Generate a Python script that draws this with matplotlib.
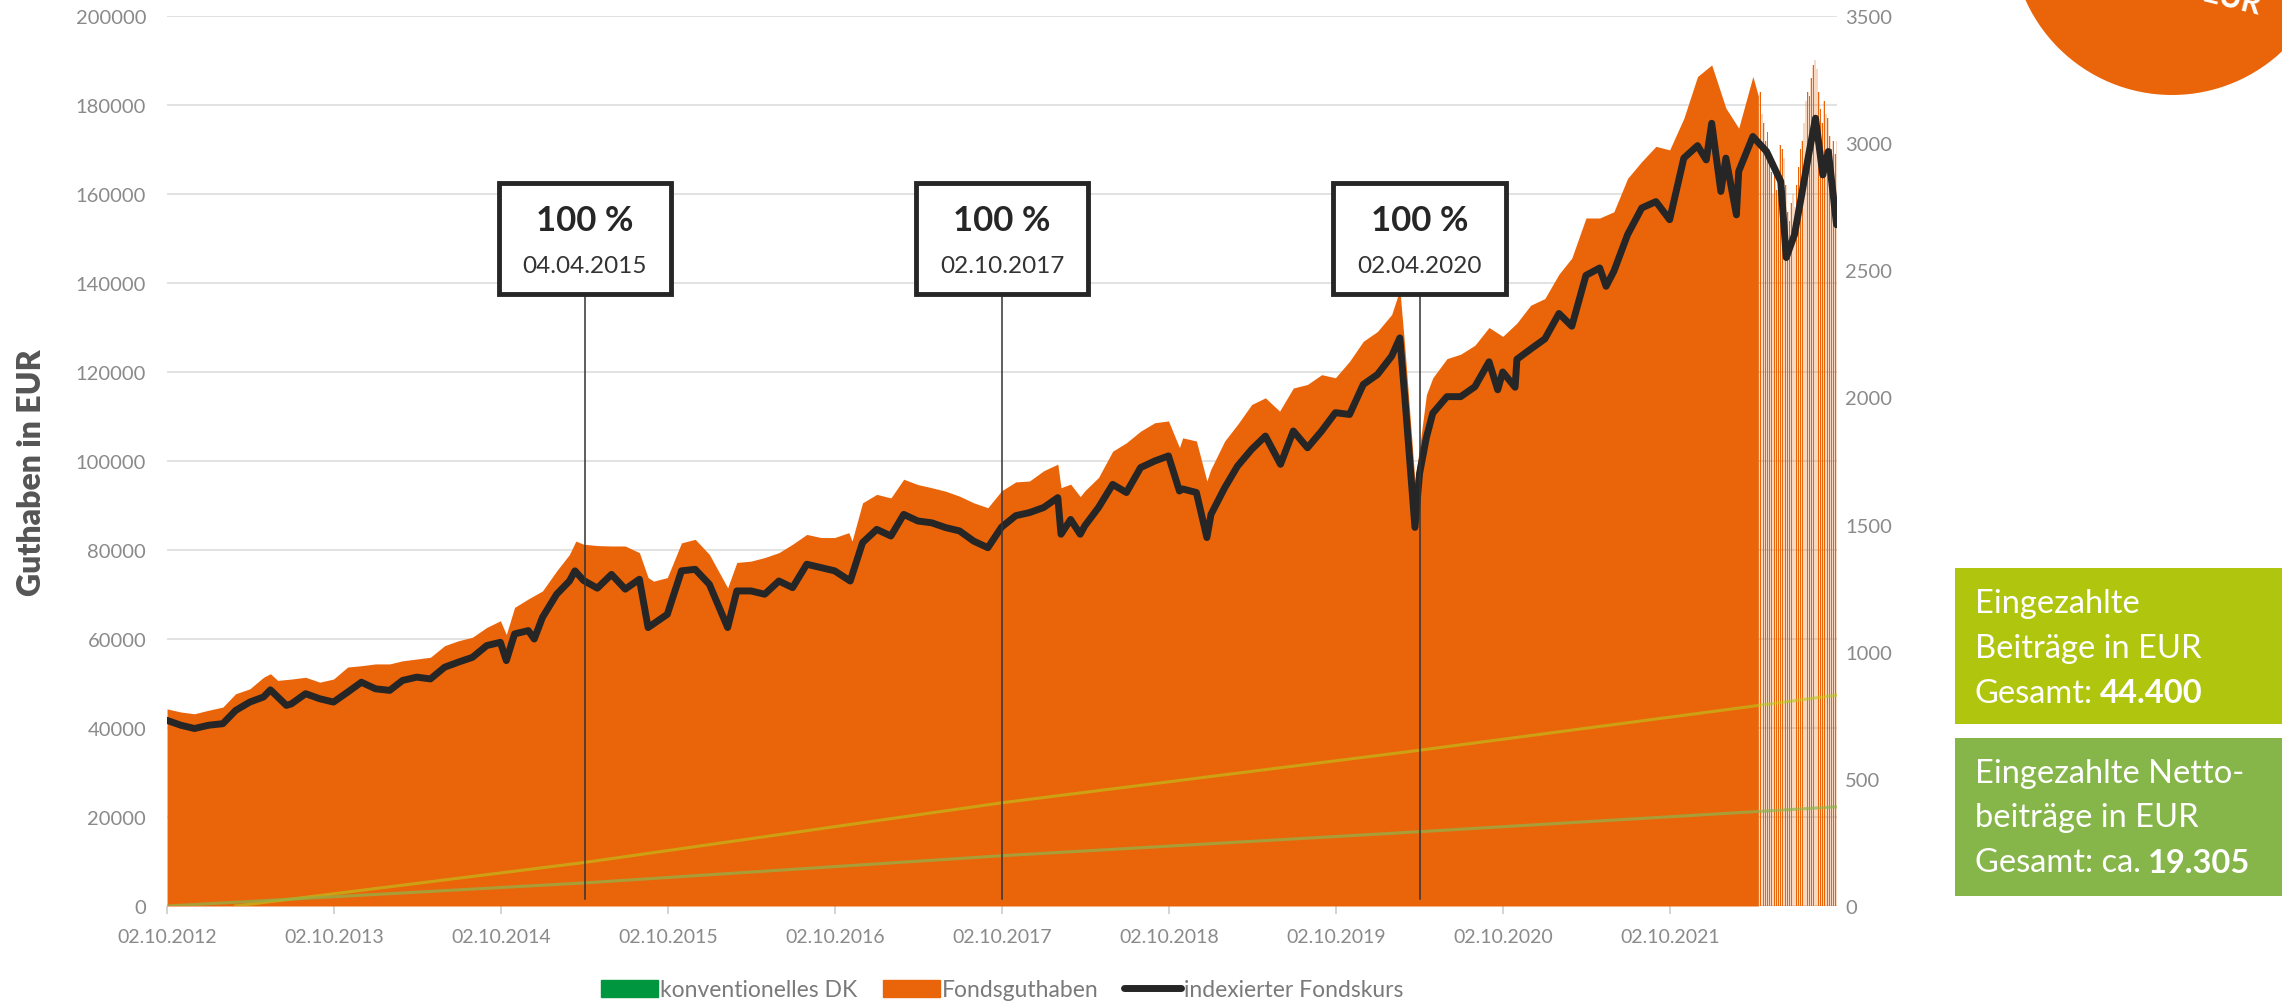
import matplotlib
matplotlib.use('Agg')
import matplotlib.pyplot as plt
import matplotlib.dates as mdates
import matplotlib.patches as mpatches
from matplotlib.lines import Line2D
from matplotlib.transforms import blended_transform_factory
import pandas as pd

plt.rcParams['font.family'] = ['Lato', 'DejaVu Sans']

ORANGE = '#ea650a'
GREY_TXT = '#8a8a8a'
DARK = '#262626'

# Fondsguthaben in EUR (solid part)
fonds_dates = [
   '2012-10-02', '2012-11-01', '2012-12-01', '2013-01-01', '2013-02-01', '2013-03-01',
   '2013-04-01', '2013-05-01', '2013-05-16', '2013-06-01', '2013-07-01', '2013-08-01',
   '2013-09-01', '2013-10-01', '2013-11-01', '2013-12-01', '2014-01-01', '2014-02-01',
   '2014-03-01', '2014-04-01', '2014-05-01', '2014-06-01', '2014-07-01', '2014-08-01',
   '2014-09-01', '2014-10-01', '2014-10-14', '2014-11-01', '2014-12-01', '2015-01-01',
   '2015-02-01', '2015-03-01', '2015-03-15', '2015-04-01', '2015-05-01', '2015-06-01',
   '2015-07-01', '2015-08-01', '2015-08-20', '2015-09-01', '2015-10-01', '2015-11-01',
   '2015-12-01', '2016-01-01', '2016-02-10', '2016-03-01', '2016-04-01', '2016-05-01',
   '2016-06-01', '2016-07-01', '2016-08-01', '2016-09-01', '2016-10-01', '2016-11-01',
   '2016-11-08', '2016-12-01', '2017-01-01', '2017-02-01', '2017-03-01', '2017-04-01',
   '2017-05-01', '2017-06-01', '2017-07-01', '2017-08-01', '2017-09-01', '2017-10-01',
   '2017-11-01', '2017-12-01', '2018-01-01', '2018-02-01', '2018-02-08', '2018-03-01',
   '2018-03-22', '2018-04-01', '2018-05-01', '2018-06-01', '2018-07-01', '2018-08-01',
   '2018-09-01', '2018-10-01', '2018-10-25', '2018-11-01', '2018-12-01', '2018-12-24',
   '2019-01-01', '2019-02-01', '2019-03-01', '2019-04-01', '2019-05-01', '2019-06-01',
   '2019-07-01', '2019-08-01', '2019-09-01', '2019-10-01', '2019-11-01', '2019-12-01',
   '2020-01-01', '2020-02-01', '2020-02-19', '2020-03-01', '2020-03-23', '2020-04-02',
   '2020-04-17', '2020-05-01', '2020-06-01', '2020-07-01', '2020-08-01', '2020-09-01',
   '2020-10-01', '2020-11-01', '2020-12-01', '2021-01-01', '2021-02-01', '2021-03-01',
   '2021-04-01', '2021-05-01', '2021-06-01', '2021-07-01', '2021-08-01', '2021-09-01',
   '2021-10-01', '2021-11-01', '2021-12-01', '2022-01-01', '2022-02-01', '2022-03-01',
   '2022-04-01', '2022-04-13']
fonds_values = [
   44300, 43600, 43200, 44000, 44700, 47700,
   48800, 51400, 52200, 50700, 51000, 51400,
   50300, 51000, 53700, 54000, 54400, 54400,
   55100, 55500, 55900, 58500, 59600, 60400,
   62600, 64100, 61000, 67100, 69000, 70800,
   75300, 79000, 82000, 81300, 81000, 80900,
   80900, 79400, 73800, 73000, 73800, 81600,
   82400, 79000, 71500, 77200, 77500, 78300,
   79400, 81300, 83500, 82800, 82800, 83900,
   82000, 90600, 92500, 91700, 95900, 94700,
   94000, 93200, 92100, 90600, 89500, 93300,
   95300, 95500, 97800, 99300, 94000, 94800,
   92000, 93300, 96300, 102200, 104100, 106700,
   108600, 109000, 103000, 105200, 104500, 95500,
   98000, 104500, 108200, 112700, 114200, 111200,
   116400, 117200, 119400, 118700, 122400, 126900,
   129100, 132900, 138500, 125400, 95500, 103000,
   114900, 118700, 123000, 124000, 126000, 130000,
   128000, 131000, 135000, 136500, 142000, 145600,
   154600, 154600, 156000, 163500, 167300, 170700,
   169900, 177000, 186400, 189000, 179300, 174800,
   186400, 182000]

# Fondsguthaben, thin stripes from mid April 2022 (one stripe every 4 days)
stripe_start = '2022-04-17'
stripe_values = [
   183000, 178000, 176000, 172000, 174000, 169000, 165000, 160000, 166000, 161000,
   164000, 171000, 170000, 168000, 162000, 156000, 154000, 158000, 160000, 157000,
   162000, 166000, 170000, 172000, 176000, 181000, 183000, 182000, 186000, 189000,
   190000, 188000, 183000, 179000, 176000, 181000, 178000, 177000, 173000, 170000,
   172000, 169000, 172000]

# indexierter Fondskurs (right axis)
kurs_dates = [
   '2012-10-02', '2012-11-01', '2012-12-01', '2013-01-01', '2013-02-01', '2013-03-01',
   '2013-04-01', '2013-05-01', '2013-05-16', '2013-06-20', '2013-07-01', '2013-08-01',
   '2013-09-01', '2013-10-01', '2013-11-01', '2013-12-01', '2014-01-01', '2014-02-01',
   '2014-03-01', '2014-04-01', '2014-05-01', '2014-06-01', '2014-07-01', '2014-08-01',
   '2014-09-01', '2014-10-01', '2014-10-14', '2014-11-01', '2014-12-01', '2014-12-14',
   '2015-01-01', '2015-02-01', '2015-03-01', '2015-03-13', '2015-04-01', '2015-05-01',
   '2015-06-01', '2015-07-01', '2015-08-01', '2015-08-20', '2015-09-01', '2015-10-01',
   '2015-11-01', '2015-12-01', '2016-01-01', '2016-02-10', '2016-03-01', '2016-04-01',
   '2016-05-01', '2016-06-01', '2016-07-01', '2016-08-01', '2016-09-01', '2016-10-01',
   '2016-11-04', '2016-12-01', '2017-01-01', '2017-02-01', '2017-03-01', '2017-04-01',
   '2017-05-01', '2017-06-01', '2017-07-01', '2017-08-01', '2017-09-01', '2017-10-01',
   '2017-11-01', '2017-12-01', '2018-01-01', '2018-02-01', '2018-02-08', '2018-03-01',
   '2018-03-22', '2018-04-01', '2018-05-01', '2018-06-01', '2018-07-01', '2018-08-01',
   '2018-09-01', '2018-10-01', '2018-10-25', '2018-11-01', '2018-12-01', '2018-12-24',
   '2019-01-02', '2019-02-01', '2019-03-01', '2019-04-01', '2019-05-01', '2019-06-03',
   '2019-07-01', '2019-08-01', '2019-09-01', '2019-10-01', '2019-11-01', '2019-12-01',
   '2020-01-01', '2020-02-01', '2020-02-19', '2020-03-01', '2020-03-23', '2020-04-02',
   '2020-04-17', '2020-05-01', '2020-06-01', '2020-07-01', '2020-08-01', '2020-09-01',
   '2020-09-20', '2020-10-01', '2020-10-28', '2020-11-01', '2020-12-01', '2021-01-01',
   '2021-02-01', '2021-03-01', '2021-04-01', '2021-05-01', '2021-05-15', '2021-06-01',
   '2021-07-01', '2021-08-01', '2021-09-01', '2021-10-01', '2021-11-01', '2021-12-01',
   '2021-12-20', '2022-01-01', '2022-01-21', '2022-02-01', '2022-02-24', '2022-03-01',
   '2022-04-01', '2022-05-01', '2022-06-01', '2022-06-13', '2022-07-01', '2022-07-15',
   '2022-08-01', '2022-08-16', '2022-09-01', '2022-09-13', '2022-09-22', '2022-10-01']
kurs_values = [
   730, 711, 698, 711, 717, 769,
   802, 822, 850, 789, 795, 835,
   815, 802, 841, 880, 854, 848,
   887, 900, 893, 939, 959, 978,
   1024, 1037, 965, 1070, 1083, 1050,
   1135, 1226, 1278, 1318, 1280, 1250,
   1304, 1246, 1285, 1095, 1110, 1147,
   1318, 1324, 1265, 1095, 1239, 1239,
   1226, 1278, 1252, 1344, 1331, 1318,
   1278, 1429, 1481, 1455, 1540, 1514,
   1507, 1488, 1475, 1435, 1409, 1490,
   1535, 1547, 1567, 1606, 1462, 1520,
   1462, 1495, 1567, 1658, 1626, 1724,
   1750, 1770, 1632, 1640, 1626, 1449,
   1540, 1645, 1730, 1796, 1848, 1737,
   1868, 1802, 1868, 1940, 1933, 2051,
   2090, 2162, 2234, 1998, 1489, 1700,
   1842, 1938, 2003, 2003, 2042, 2140,
   2030, 2100, 2040, 2150, 2190, 2230,
   2330, 2280, 2480, 2509, 2437, 2496,
   2640, 2745, 2770, 2699, 2941, 2990,
   2934, 3078, 2810, 2941, 2718, 2889,
   3026, 2967, 2849, 2550, 2640, 2780,
   2954, 3098, 2875, 2967, 2823, 2679]

# paid in contributions (EUR)
beitrag_dates = ['2013-03-01', '2015-04-04', '2017-10-02', '2020-04-02', '2022-10-02']
beitrag_values = [0, 9800, 23200, 35000, 47400]
netto_dates = ['2012-10-02', '2015-04-04', '2017-10-02', '2020-04-02', '2022-10-02']
netto_values = [0, 5200, 11300, 16700, 22300]

# 100 % marks
mark_dates = ['2015-04-04', '2017-10-02', '2020-04-02']
mark_labels = ['04.04.2015', '02.10.2017', '02.04.2020']

tick_dates = ['2012-10-02', '2013-10-02', '2014-10-02', '2015-10-02', '2016-10-02',
              '2017-10-02', '2018-10-02', '2019-10-02', '2020-10-02', '2021-10-02']
tick_labels = ['02.10.2012', '02.10.2013', '02.10.2014', '02.10.2015', '02.10.2016',
               '02.10.2017', '02.10.2018', '02.10.2019', '02.10.2020', '02.10.2021']

fig = plt.figure(figsize=(22.82, 10.04), dpi=100)
ax = fig.add_axes([0.0732, 0.0966, 0.7318, 0.8865])
ax2 = ax.twinx()

fonds_x = pd.to_datetime(fonds_dates)
stripe_x = pd.date_range(stripe_start, periods=len(stripe_values), freq='4D')
kurs_x = pd.to_datetime(kurs_dates)

ax.fill_between(fonds_x, 0, fonds_values, color=ORANGE, lw=0, zorder=2)
ax.bar(stripe_x, stripe_values, width=4.0, color=ORANGE, alpha=0.25, lw=0, zorder=2)
ax.bar(stripe_x, stripe_values, width=1.6, color=ORANGE, lw=0, zorder=2)

ax.plot(pd.to_datetime(beitrag_dates), beitrag_values, color='#bcc81a', lw=2.2, alpha=0.6, zorder=3)
ax.plot(pd.to_datetime(netto_dates), netto_values, color='#8db64a', lw=2.2, alpha=0.7, zorder=3)

ax2.plot(kurs_x, kurs_values, color=DARK, lw=5, solid_joinstyle='round', solid_capstyle='round', zorder=4)

ax.set_xlim(pd.Timestamp('2012-10-02'), pd.Timestamp('2022-10-02'))
ax.set_ylim(0, 200000)
ax2.set_ylim(0, 3500)

yt = list(range(0, 200001, 20000))
ax.set_yticks(yt)
ax.set_yticklabels([str(v) for v in yt])
ax.tick_params(axis='y', length=0, pad=15, labelsize=14.5, labelcolor=GREY_TXT)
ax2.set_yticks(list(range(0, 3501, 500)))
ax2.set_yticklabels([str(v) for v in range(0, 3501, 500)])
ax2.tick_params(axis='y', length=0, pad=6, labelsize=14.5, labelcolor=GREY_TXT)

ax.set_xticks(pd.to_datetime(tick_dates))
ax.set_xticklabels(tick_labels)
ax.tick_params(axis='x', length=6, width=1.3, color='#d0d0d0', pad=10, labelsize=14, labelcolor=GREY_TXT)

ax.grid(axis='y', color='#e2e2e2', lw=1.4)
ax.set_axisbelow(True)
for a in (ax, ax2):
   for s in ['top', 'left', 'right', 'bottom']:
      a.spines[s].set_visible(False)
ax.axhline(0, color='#f4c4a0', lw=1, ls=':', zorder=1)

fig.text(32 / 2282, 0.529, 'Guthaben in EUR', rotation=90, fontsize=23, fontweight='heavy',
         color='#555555', ha='center', va='center')

# 100 % boxes
trans = blended_transform_factory(ax2.transData, ax2.transAxes)
for d, lab in zip(mark_dates, mark_labels):
   x0 = mdates.date2num(pd.Timestamp(d))
   ax2.plot([x0, x0], [0.008, 0.6874], transform=trans, color='#333333', lw=1.1, zorder=6)
   ax2.add_patch(mpatches.Rectangle((x0 - 189, 0.6874), 378, 0.1244, transform=trans,
                                    facecolor='white', edgecolor=DARK, lw=3.5, zorder=7))
   ax2.text(x0, 0.771, '100 %', transform=trans, ha='center', va='center', fontsize=25,
            fontweight='bold', color=DARK, zorder=8)
   ax2.text(x0, 0.720, lab, transform=trans, ha='center', va='center', fontsize=17.5,
            color='#333333', zorder=8)

# legend
handles = [mpatches.Patch(color='#009640'), mpatches.Patch(color=ORANGE),
           Line2D([0], [0], color=DARK, lw=5, solid_capstyle='round')]
fig.legend(handles, ['konventionelles DK', 'Fondsguthaben', 'indexierter Fondskurs'],
           loc='center', bbox_to_anchor=(0.439, 0.013), ncol=3, frameon=False,
           fontsize=16.5, labelcolor='#7a7a7a', handlelength=2.5, handleheight=0.75,
           handletextpad=0.1, columnspacing=1.1)

# orange circle top right
fig.add_artist(mpatches.Ellipse((2172 / 2282, 1 + 64.5 / 1004), 2 * 160.5 / 2282, 2 * 160.5 / 1004,
                                transform=fig.transFigure, color=ORANGE, lw=0))
fig.text(2232 / 2282, 1.0, 'EUR', rotation=-14, fontsize=22, fontweight='bold', color='white',
         ha='center', va='center')

# info boxes on the right
fig.add_artist(mpatches.Rectangle((1955 / 2282, 0.2779), 1 - 1955 / 2282, 0.1554,
                                  transform=fig.transFigure, color='#b0c50d', lw=0))
fig.add_artist(mpatches.Rectangle((1955 / 2282, 0.1066), 1 - 1955 / 2282, 0.1574,
                                  transform=fig.transFigure, color='#86b54a', lw=0))

renderer = fig.canvas.get_renderer()

def box_line(y, parts, size=23.5):
   x = 1975 / 2282
   for txt, weight in parts:
      t = fig.text(x, y, txt, fontsize=size, fontweight=weight, color='white', ha='left', va='center')
      bb = t.get_window_extent(renderer=renderer)
      x += (bb.width + 7) / fig.bbox.width

box_line(0.3984, [('Eingezahlte', 'normal')])
box_line(0.3536, [('Beiträge in EUR', 'normal')])
box_line(0.3088, [('Gesamt:', 'normal'), ('44.400', 'bold')])
box_line(0.2291, [('Eingezahlte Netto-', 'normal')])
box_line(0.1853, [('beiträge in EUR', 'normal')])
box_line(0.1404, [('Gesamt: ca.', 'normal'), ('19.305', 'bold')])

fig.savefig('out.png', dpi=100)
